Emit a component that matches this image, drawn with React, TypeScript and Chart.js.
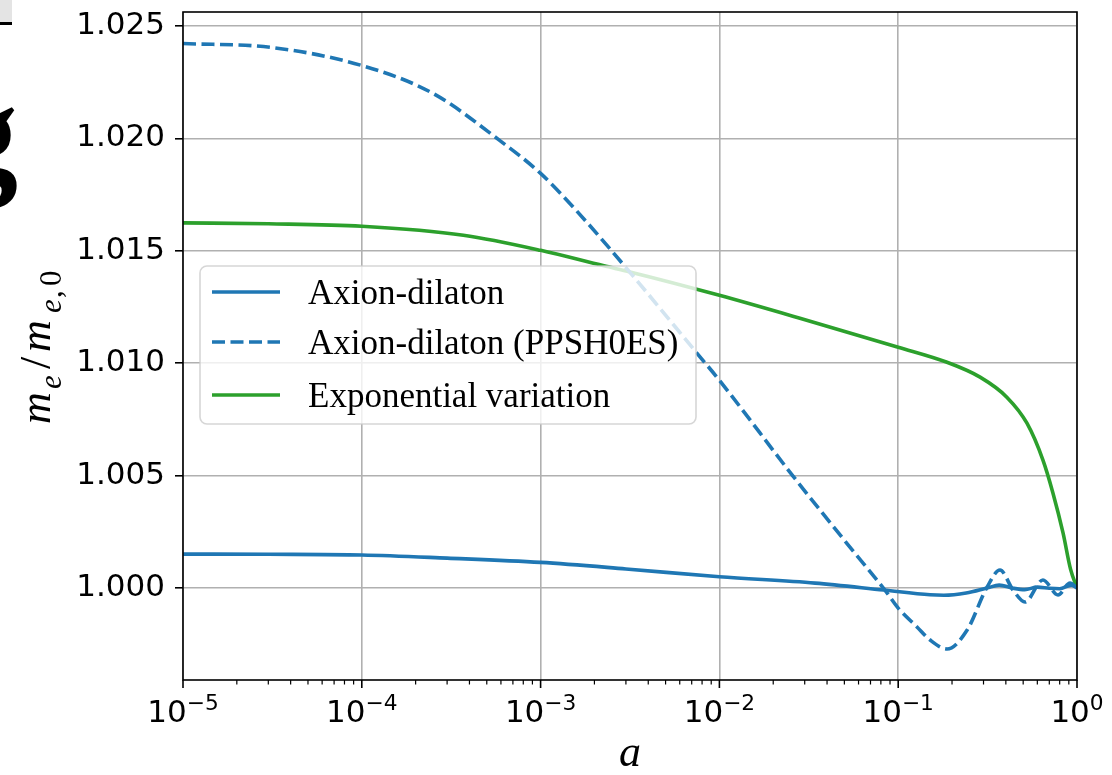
import React, { useEffect, useRef } from "react";
import { Chart, registerables } from "chart.js";

Chart.register(...registerables);

const W = 1112;
const H = 775;

// ---- axis ticks ----
const xTickExponents = [-5, -4, -3, -2, -1, 0];
const xMinorMultipliers = [2, 3, 4, 5, 6, 7, 8, 9];
const yTickValues = [1.0, 1.005, 1.01, 1.015, 1.02, 1.025];
const Y_MIN = 0.99591;
const Y_MAX = 1.02562;

// ---- series ----
const seriesLabels = ["Axion-dilaton", "Axion-dilaton (PPSH0ES)", "Exponential variation"];

const axionA = [1e-5, 3e-5, 1e-4, 3e-4, 1e-3, 3e-3, 1e-2, 0.0343, 0.0832, 0.1507, 0.18, 0.24, 0.314, 0.367, 0.44, 0.51, 0.6, 0.7, 0.8, 0.93, 1.0];
const axionV = [1.00151, 1.0015, 1.00147, 1.00133, 1.00114, 1.00085, 1.0005, 1.00022, 0.99991, 0.9997, 0.99968, 0.99978, 1.0, 1.00013, 0.99999, 0.99993, 1.00004, 0.99999, 0.99997, 1.00013, 1.0];

const ppshoesA = [1e-5, 3.15e-5, 1e-4, 2.5e-4, 5.9e-4, 1e-3, 1.58e-3, 3.16e-3, 7.5e-3, 1e-2, 0.0258, 0.0537, 0.0843, 0.1, 0.1274, 0.1507, 0.1875, 0.243, 0.314, 0.371, 0.439, 0.512, 0.645, 0.783, 0.914, 1.0];
const ppshoesV = [1.02422, 1.02404, 1.02324, 1.022, 1.01991, 1.01844, 1.0168, 1.01404, 1.01044, 1.00924, 1.00498, 1.00182, 0.99991, 0.99911, 0.99827, 0.99769, 0.99729, 0.99813, 1.00004, 1.0008, 0.99991, 0.99938, 1.00036, 0.99969, 1.00022, 1.0];

const expA = [1e-5, 3e-5, 1e-4, 3.7e-4, 1e-3, 2.26e-3, 3.16e-3, 1e-2, 0.0282, 0.1, 0.1875, 0.287, 0.405, 0.525, 0.645, 0.734, 0.836, 0.92, 1.0];
const expV = [1.01624, 1.0162, 1.01609, 1.01569, 1.01502, 1.01433, 1.01406, 1.01302, 1.012, 1.01071, 1.01004, 1.00938, 1.00849, 1.00733, 1.00569, 1.00422, 1.00244, 1.00084, 1.0];

const BLUE = "#1f77b4";
const GREEN = "#2ca02c";
const LINE_W = 3.6;

const toPoints = (xs: number[], ys: number[]) => xs.map((x, i) => ({ x, y: ys[i] }));

const customDraw = {
  id: "customDraw",
  afterDatasetsDraw(chart: any) {
    const ctx = chart.ctx as CanvasRenderingContext2D;
    const ca = chart.chartArea;
    // legend
    const bx = ca.left + 17;
    const by = ca.top + 254;
    const bw = 496;
    const bh = 158;
    ctx.save();
    ctx.beginPath();
    (ctx as any).roundRect(bx, by, bw, bh, 7);
    ctx.fillStyle = "rgba(255,255,255,0.8)";
    ctx.fill();
    ctx.strokeStyle = "rgba(204,204,204,0.8)";
    ctx.lineWidth = 1.6;
    ctx.stroke();
    const rowsY = [by + 26, by + 76, by + 129];
    chart.data.datasets.forEach((ds: any, i: number) => {
      const y = rowsY[i];
      ctx.beginPath();
      ctx.setLineDash(ds.borderDash || []);
      ctx.strokeStyle = ds.borderColor;
      ctx.lineWidth = LINE_W;
      ctx.moveTo(bx + 12, y);
      ctx.lineTo(bx + 80, y);
      ctx.stroke();
      ctx.setLineDash([]);
      ctx.fillStyle = "#000";
      ctx.font = '35px "Liberation Serif"';
      ctx.textAlign = "left";
      ctx.textBaseline = "alphabetic";
      ctx.fillText(ds.label, bx + 108, y + 12);
    });
    ctx.restore();
  },
  afterDraw(chart: any) {
    const ctx = chart.ctx as CanvasRenderingContext2D;
    const ca = chart.chartArea;
    const xs = chart.scales.x;
    ctx.save();
    // frame
    ctx.strokeStyle = "#000";
    ctx.lineWidth = 1.6;
    ctx.strokeRect(ca.left, ca.top, ca.right - ca.left, ca.bottom - ca.top);
    // x ticks
    xTickExponents.forEach((e) => {
      const p = xs.getPixelForValue(Math.pow(10, e));
      ctx.beginPath();
      ctx.lineWidth = 1.6;
      ctx.moveTo(p, ca.bottom);
      ctx.lineTo(p, ca.bottom + 8);
      ctx.stroke();
      if (e < 0) {
        xMinorMultipliers.forEach((m) => {
          const q = xs.getPixelForValue(m * Math.pow(10, e));
          ctx.beginPath();
          ctx.lineWidth = 1.2;
          ctx.moveTo(q, ca.bottom);
          ctx.lineTo(q, ca.bottom + 4.5);
          ctx.stroke();
        });
      }
    });
    // x tick labels 10^e
    ctx.fillStyle = "#000";
    ctx.textBaseline = "alphabetic";
    ctx.textAlign = "left";
    xTickExponents.forEach((e) => {
      const p = xs.getPixelForValue(Math.pow(10, e));
      const base = "10";
      const sup = e < 0 ? "\u2212" + Math.abs(e) : String(e);
      ctx.font = '31px "DejaVu Sans"';
      const w1 = ctx.measureText(base).width;
      ctx.font = '21.7px "DejaVu Sans"';
      const w2 = ctx.measureText(sup).width;
      const start = p - (w1 + w2) / 2;
      const by = ca.bottom + 42;
      ctx.font = '31px "DejaVu Sans"';
      ctx.fillText(base, start, by);
      ctx.font = '21.7px "DejaVu Sans"';
      ctx.fillText(sup, start + w1, by - 12);
    });
    // x title
    ctx.font = 'italic 44px "Liberation Serif"';
    ctx.textAlign = "center";
    ctx.fillText("a", (ca.left + ca.right) / 2, ca.bottom + 86);
    // y title m_e / m_{e,0}
    const cy = (ca.top + ca.bottom) / 2;
    const startY = cy + 78;
    const baseX = ca.left - 133;
    ctx.translate(baseX, startY);
    ctx.rotate(-Math.PI / 2);
    ctx.textAlign = "left";
    const big = 'italic 44px "Liberation Serif"';
    const small = 'italic 31px "Liberation Serif"';
    const smallUp = '31px "Liberation Serif"';
    const bigUp = '44px "Liberation Serif"';
    const parts: [string, string, number, number][] = [
      ["m", big, 0, 0],
      ["e", small, 35, 11],
      ["/", bigUp, 55, 0],
      ["m", big, 72, 0],
      ["e", small, 111, 11],
      [",", smallUp, 126, 11],
      ["0", smallUp, 138, 11],
    ];
    parts.forEach(([t, f, dx, dy]) => {
      ctx.font = f;
      ctx.fillText(t, dx, dy);
    });
    ctx.restore();
  },
};

export default function App() {
  const ref = useRef<HTMLCanvasElement>(null);
  useEffect(() => {
    const canvas = ref.current;
    if (!canvas) return;
    const zeroPad = (s: any) => {
      s.paddingTop = 0;
      s.paddingBottom = 0;
      s.paddingLeft = 0;
      s.paddingRight = 0;
    };
    const chart = new Chart(canvas, {
      type: "line",
      data: {
        datasets: [
          {
            label: seriesLabels[0],
            data: toPoints(axionA, axionV),
            borderColor: BLUE,
            borderWidth: LINE_W,
            pointRadius: 0,
            cubicInterpolationMode: "monotone",
            fill: false,
          },
          {
            label: seriesLabels[1],
            data: toPoints(ppshoesA, ppshoesV),
            borderColor: BLUE,
            borderWidth: LINE_W,
            borderDash: [13, 5.5],
            pointRadius: 0,
            cubicInterpolationMode: "monotone",
            fill: false,
          },
          {
            label: seriesLabels[2],
            data: toPoints(expA, expV),
            borderColor: GREEN,
            borderWidth: LINE_W,
            pointRadius: 0,
            cubicInterpolationMode: "monotone",
            fill: false,
          },
        ],
      } as any,
      options: {
        animation: false,
        responsive: false,
        maintainAspectRatio: false,
        layout: { padding: { top: 12, right: 35, left: 0, bottom: 0 } },
        plugins: { legend: { display: false }, tooltip: { enabled: false } },
        scales: {
          x: {
            type: "logarithmic",
            min: 1e-5,
            max: 1,
            afterBuildTicks: (s: any) => {
              s.ticks = xTickExponents.map((e) => ({ value: Math.pow(10, e), major: true }));
            },
            afterFit: (s: any) => {
              s.height = 95;
              zeroPad(s);
            },
            ticks: { display: false, autoSkip: false },
            grid: { color: "#b0b0b0", lineWidth: 1.6, drawTicks: false },
            border: { display: false },
          },
          y: {
            type: "linear",
            min: Y_MIN,
            max: Y_MAX,
            afterBuildTicks: (s: any) => {
              s.ticks = yTickValues.map((v) => ({ value: v }));
            },
            afterFit: (s: any) => {
              s.width = 183;
              zeroPad(s);
            },
            ticks: {
              autoSkip: false,
              color: "#000",
              padding: 10,
              font: { family: "DejaVu Sans", size: 31 },
              callback: (v: any) => Number(v).toFixed(3),
            },
            grid: {
              color: "#b0b0b0",
              lineWidth: 1.6,
              drawTicks: true,
              tickLength: 8,
              tickColor: "#000",
              tickWidth: 1.6,
            },
            border: { display: false },
          },
        },
      } as any,
      plugins: [customDraw],
    });
    return () => chart.destroy();
  }, []);
  return (
    <div style={{ position: "fixed", left: 0, top: 0, width: W, height: H, background: "#fff", overflow: "hidden" }}>
      <canvas ref={ref} width={W} height={H} style={{ position: "absolute", left: 0, top: 0, width: W, height: H }} />
      <div style={{ position: "absolute", left: 0, top: 0, width: 12, height: 22, background: "#e4e4e4", borderBottom: "3px solid #000" }} />
      <span
        style={{
          position: "absolute",
          left: -52,
          top: 62,
          fontFamily: '"Liberation Serif"',
          fontWeight: "bold",
          fontSize: 140,
          lineHeight: "140px",
          color: "#000",
        }}
      >
        g
      </span>
    </div>
  );
}
